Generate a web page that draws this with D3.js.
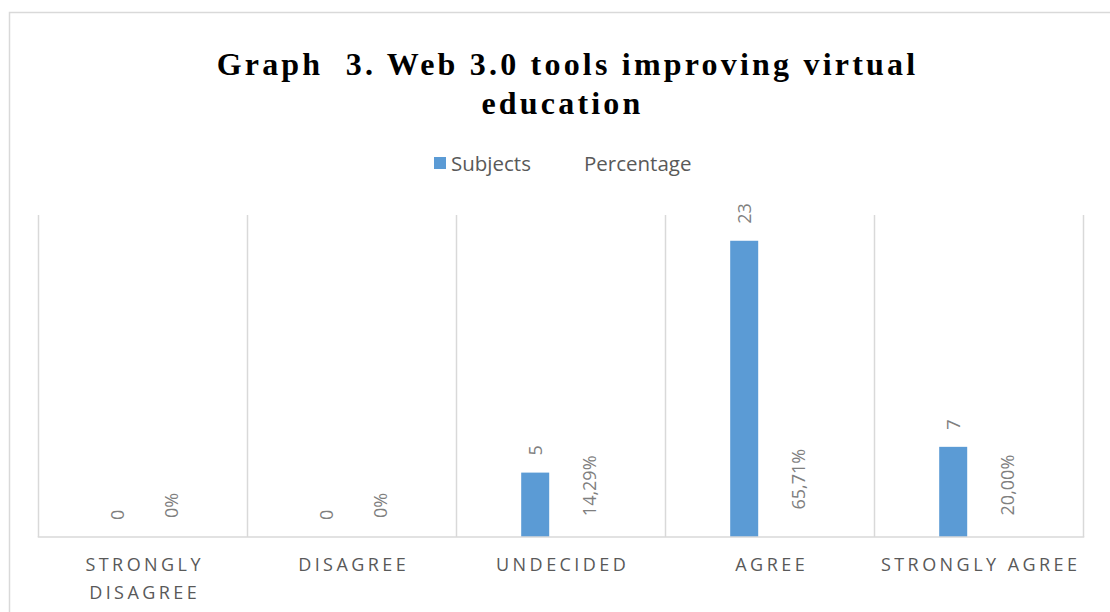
<!DOCTYPE html>
<html><head><meta charset="utf-8">
<script src="https://cdn.jsdelivr.net/npm/d3@7"></script>
<style>body{margin:0;background:#fff}</style>
</head><body>
<svg id="c" width="1110" height="612"></svg>
<script>
const categories = [["STRONGLY","DISAGREE"],["DISAGREE"],["UNDECIDED"],["AGREE"],["STRONGLY AGREE"]];
const subjects = [0,0,5,23,7];
const percentage = [0,0,0.1429,0.6571,0.2];
const subjectLabels = ["0","0","5","23","7"];
const percentLabels = ["0%","0%","14,29%","65,71%","20,00%"];
const seriesNames = ["Subjects","Percentage"];
const yMax = 25;

const svg = d3.select("#c");
svg.append("rect").attr("x",9.5).attr("y",12.5).attr("width",1120).attr("height",620)
  .attr("fill","#fff").attr("stroke","#d9d9d9").attr("stroke-width",1.5);

const m={l:38.5,r:1083.5,t:215,b:537};
const x=d3.scaleBand().domain(d3.range(categories.length)).range([m.l,m.r]).padding(0);
const y=d3.scaleLinear().domain([0,yMax]).range([m.b,m.t]);
const xs=d3.scaleBand().domain([0,1]).range([64.7,147.5]).paddingInner(0.489).paddingOuter(0);

// gridlines at category boundaries
const bounds=d3.range(categories.length+1).map(i=>m.l+i*x.bandwidth());
svg.selectAll("line.g").data(bounds).join("line")
  .attr("x1",d=>d).attr("x2",d=>d).attr("y1",m.t).attr("y2",m.b)
  .attr("stroke","#d9d9d9").attr("stroke-width",1.5);

// bars subjects
svg.selectAll("rect.b").data(subjects).join("rect")
  .attr("x",(d,i)=>x(i)+xs(0)).attr("width",xs.bandwidth())
  .attr("y",d=>y(d)).attr("height",d=>y(0)-y(d)).attr("fill","#5b9bd5");
// percentage bars (tiny relative to subjects, no fill)
svg.selectAll("rect.p").data(percentage).join("rect")
  .attr("x",(d,i)=>x(i)+xs(1)).attr("width",xs.bandwidth())
  .attr("y",d=>y(d)).attr("height",d=>y(0)-y(d)).attr("fill","none");

// baseline
svg.append("line").attr("x1",m.l-0.75).attr("x2",m.r+0.75).attr("y1",m.b).attr("y2",m.b)
  .attr("stroke","#d9d9d9").attr("stroke-width",1.5);

const lblFont="'Open Sans', 'Noto Sans', sans-serif";
function addLabels(vals,labels,s,off){
  svg.selectAll(null).data(vals).join("text")
    .attr("transform",(d,i)=>`translate(${x(i)+xs(s)+xs.bandwidth()/2},${y(d)-off}) rotate(-90)`)
    .attr("dy","0.35em")
    .attr("text-anchor","start").attr("font-family",lblFont).attr("font-size",18)
    .attr("fill","#7f7f7f").text((d,i)=>labels[i]);
}
addLabels(subjects,subjectLabels,0,17);
addLabels(percentage,percentLabels,1,19);

// x labels
const xl=svg.selectAll("text.x").data(categories).join("text")
  .attr("text-anchor","middle").attr("font-family",lblFont).attr("font-size",18)
  .attr("letter-spacing",3.45).attr("fill","#595959");
xl.each(function(d,i){
  const t=d3.select(this);
  d.forEach((line,j)=>{
    t.append("tspan").attr("x",x(i)+x.bandwidth()/2+1.7).attr("y",571+j*28).text(line);
  });
});

// title
const title=svg.append("text").attr("text-anchor","middle").attr("font-family","'Liberation Serif','Times New Roman',serif")
  .attr("font-weight","bold").attr("font-size",32).attr("letter-spacing",3.2).attr("fill","#000");
title.append("tspan").attr("x",567.5).attr("y",75).text("Graph\u00a0 3. Web 3.0 tools improving virtual");
title.append("tspan").attr("x",562.5).attr("y",114).text("education");

// legend
const lg=svg.append("g");
lg.append("rect").attr("x",434).attr("y",157).attr("width",12).attr("height",12).attr("fill","#5b9bd5");
lg.append("text").attr("x",451).attr("y",171).attr("font-family",lblFont).attr("font-size",20.5)
  .attr("fill","#595959").text(seriesNames[0]);
lg.append("text").attr("x",584).attr("y",171).attr("font-family",lblFont).attr("font-size",20.5)
  .attr("fill","#595959").text(seriesNames[1]);
</script>
</body></html>
